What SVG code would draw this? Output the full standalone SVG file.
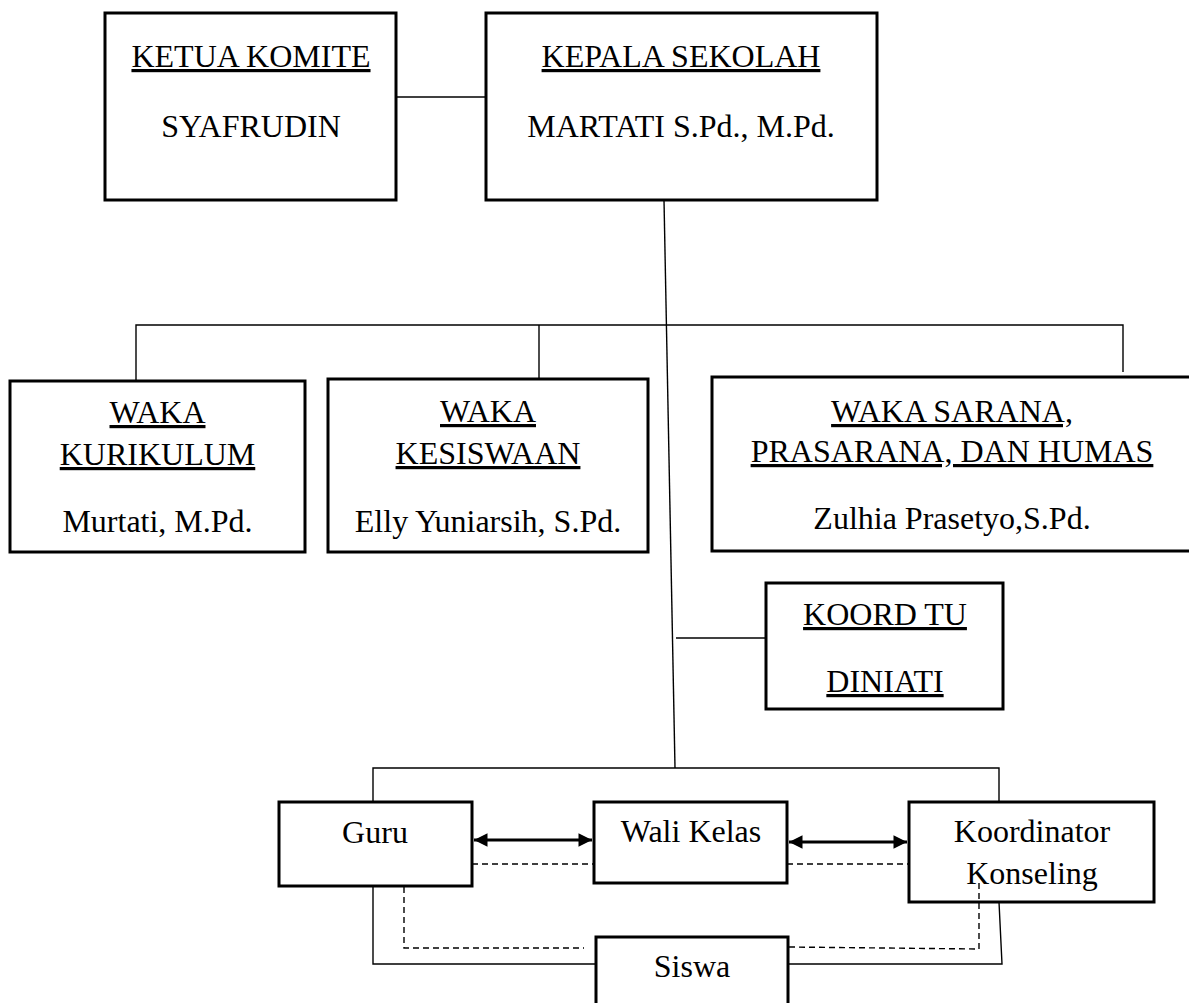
<svg xmlns="http://www.w3.org/2000/svg" width="1189" height="1003" viewBox="0 0 1189 1003">
<style>
.box{fill:#fff;stroke:#000;stroke-width:3}
.t{font-family:"Liberation Serif","Times New Roman",serif;font-size:32px;fill:#000;text-anchor:middle}
.u{text-decoration:underline}
.ln{fill:none;stroke:#000;stroke-width:1.4}
.ds{fill:none;stroke:#000;stroke-width:1.4;stroke-dasharray:6 4}
.ar{fill:none;stroke:#000;stroke-width:3}
</style>
<defs>
<marker id="ah" viewBox="0 0 10 10" refX="10" refY="5" markerWidth="5" markerHeight="4.5" orient="auto-start-reverse" markerUnits="strokeWidth">
<path d="M0,0 L10,5 L0,10 Z" fill="#000"/>
</marker>
</defs>
<rect width="1189" height="1003" fill="#fff"/>
<g id="connectors">
<line class="ln" x1="396" y1="97" x2="486" y2="97"/>
<line class="ln" x1="664" y1="200" x2="675" y2="768"/>
<polyline class="ln" points="136,381 136,325 1123,325 1123,372"/>
<line class="ln" x1="539" y1="325" x2="539" y2="379"/>
<line class="ln" x1="676" y1="638" x2="766" y2="638"/>
<polyline class="ln" points="373,815 373,768 999,768 999,802"/>
<polyline class="ln" points="373,883 373,964 596,964"/>
<polyline class="ds" points="404,887 404,948 584,948"/>
<polyline class="ln" points="999,902 1002,964 788,964"/>
<polyline class="ds" points="979,883 979,949 788,947"/>
<line class="ds" x1="472" y1="864" x2="597" y2="864"/>
<line class="ds" x1="787" y1="864" x2="909" y2="864"/>
<line class="ar" x1="474" y1="840" x2="592" y2="840" marker-start="url(#ah)" marker-end="url(#ah)"/>
<line class="ar" x1="789" y1="842" x2="907" y2="842" marker-start="url(#ah)" marker-end="url(#ah)"/>
</g>
<g id="ketua">
<rect class="box" x="105" y="13" width="291" height="187"/>
<text class="t u" x="251" y="67">KETUA KOMITE</text>
<text class="t" x="251" y="137">SYAFRUDIN</text>
</g>
<g id="kepala">
<rect class="box" x="486" y="13" width="391" height="187"/>
<text class="t u" x="681" y="67">KEPALA SEKOLAH</text>
<text class="t" x="681" y="137">MARTATI S.Pd., M.Pd.</text>
</g>
<g id="kurikulum">
<rect class="box" x="10" y="381" width="295" height="171"/>
<text class="t u" x="157.5" y="423">WAKA</text>
<text class="t u" x="157.5" y="465">KURIKULUM</text>
<text class="t" x="157.5" y="532">Murtati, M.Pd.</text>
</g>
<g id="kesiswaan">
<rect class="box" x="328" y="379" width="320" height="173"/>
<text class="t u" x="488" y="422">WAKA</text>
<text class="t u" x="488" y="464">KESISWAAN</text>
<text class="t" x="488" y="532">Elly Yuniarsih, S.Pd.</text>
</g>
<g id="sarana">
<rect class="box" x="712" y="377" width="481" height="174"/>
<text class="t u" x="952" y="422">WAKA SARANA,</text>
<text class="t u" x="952" y="462">PRASARANA, DAN HUMAS</text>
<text class="t" x="952" y="529">Zulhia Prasetyo,S.Pd.</text>
</g>
<g id="koordtu">
<rect class="box" x="766" y="583" width="237" height="126"/>
<text class="t u" x="885" y="625">KOORD TU</text>
<text class="t u" x="885" y="692">DINIATI</text>
</g>
<g id="guru">
<rect class="box" x="279" y="802" width="193" height="84"/>
<text class="t" x="375" y="843">Guru</text>
</g>
<g id="walikelas">
<rect class="box" x="594" y="802" width="193" height="81"/>
<text class="t" x="691" y="842">Wali Kelas</text>
</g>
<g id="koordkonseling">
<rect class="box" x="909" y="802" width="245" height="100" style="fill:none"/>
<text class="t" x="1032" y="842">Koordinator</text>
<text class="t" x="1032" y="884">Konseling</text>
</g>
<g id="siswa">
<rect class="box" x="596" y="937" width="192" height="80"/>
<text class="t" x="692" y="977">Siswa</text>
</g>
</svg>
